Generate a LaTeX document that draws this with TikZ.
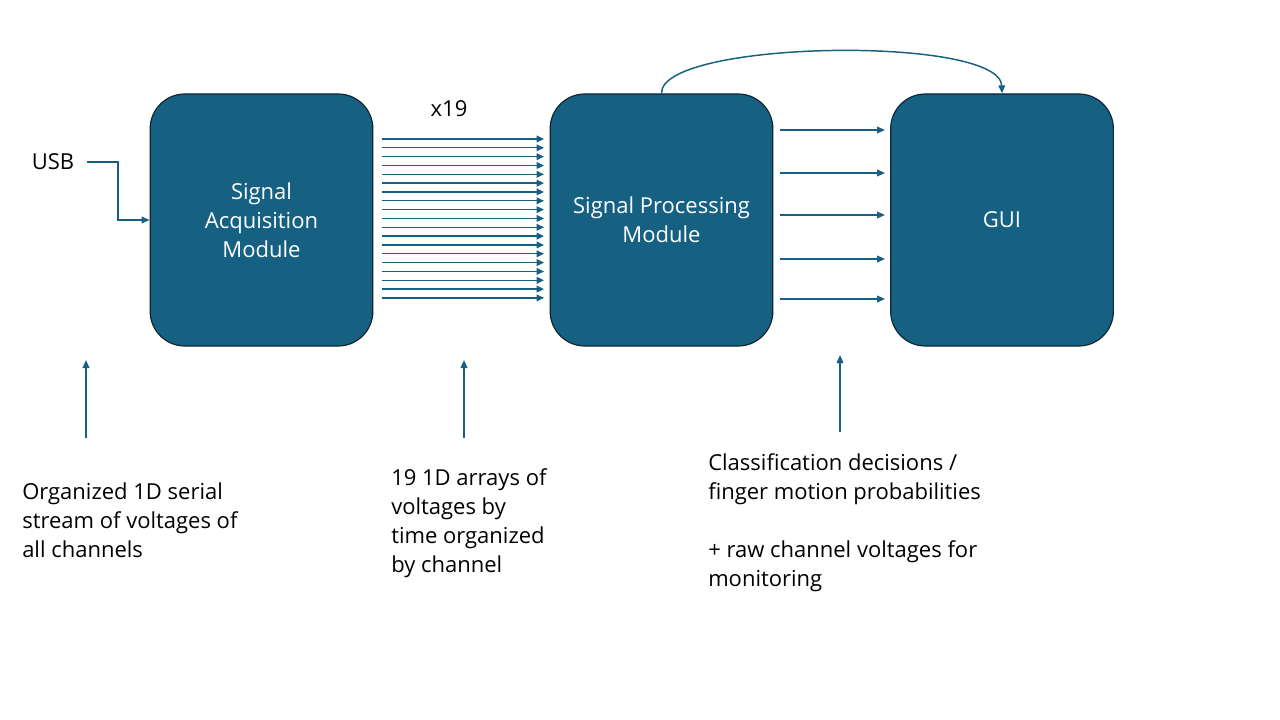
\documentclass[tikz,border=0pt]{standalone}
\usepackage{fontspec}
\setmainfont{Open Sans}
\usepackage{xcolor}
\usepackage{tikz}
\usetikzlibrary{arrows.meta}

\definecolor{modteal}{RGB}{22,96,130}
\definecolor{modedge}{RGB}{12,40,55}

\tikzset{
  module/.style={draw=modedge, fill=modteal, rounded corners=26pt, line width=0.9pt,
    minimum width=167pt, minimum height=189pt, text=white, align=center,
    font=\fontsize{16.5}{21.75}\selectfont},
  flow/.style={draw=modteal, line width=1.1pt, -{Triangle[length=6pt,width=5pt]}},
  note/.style={align=left, anchor=north west, inner sep=0pt,
    font=\fontsize{16.5}{21.75}\selectfont}
}

\begin{document}
\begin{tikzpicture}[x=0.75pt, y=-0.75pt]
    \useasboundingbox (0,0) rectangle (1280,720);

    % Modules
    \node[module] (acq) at (261.5,220) {Signal\\Acquisition\\Module};
    \node[module] (proc) at (661.5,220) {Signal Processing\\Module};
    \node[module] (gui) at (1002,220) {GUI};

    % Input
    \node[font=\fontsize{16.5}{18}\selectfont] (usb) at (53,162) {USB};
    \draw[flow] (87,162) -| (118,220) -- (acq.west);

    % 19 channel arrows
    \node[font=\fontsize{16.5}{18}\selectfont] (count) at (449,109) {x19};
    \foreach \i in {0,...,18} {
        \coordinate (chs\i) at (382,{139+8.83*\i});
        \coordinate (che\i) at (544,{139+8.83*\i});
        \draw[flow, line width=1pt, -{Triangle[length=5.5pt,width=5pt]}] (chs\i) -- (che\i);
    }

    % Outputs to GUI
    \foreach \y [count=\k] in {130,173,215,259,299} {
        \coordinate (os\k) at (780,\y);
        \coordinate (oe\k) at (885,\y);
        \draw[flow] (os\k) -- (oe\k);
    }
    \draw[flow] (proc.north) .. controls (660,40) and (1000,35) .. (gui.north);

    % Annotations
    \coordinate (pa1) at (86,438);
    \coordinate (pb1) at (86,360);
    \coordinate (pa2) at (464,438);
    \coordinate (pb2) at (464,360);
    \coordinate (pa3) at (840,432);
    \coordinate (pb3) at (840,355);
    \draw[flow] (pa1) -- (pb1);
    \draw[flow] (pa2) -- (pb2);
    \draw[flow] (pa3) -- (pb3);

    \node[note] (serial) at (22,483) {Organized 1D serial\\stream of voltages of\\all channels};
    \node[note] (arrays) at (391,468) {19 1D arrays of\\voltages by\\time organized\\by channel};
    \node[note] (decis) at (708,453) {Classification decisions /\\finger motion probabilities\\[21.75pt]+ raw channel voltages for\\monitoring};
\end{tikzpicture}
\end{document}
